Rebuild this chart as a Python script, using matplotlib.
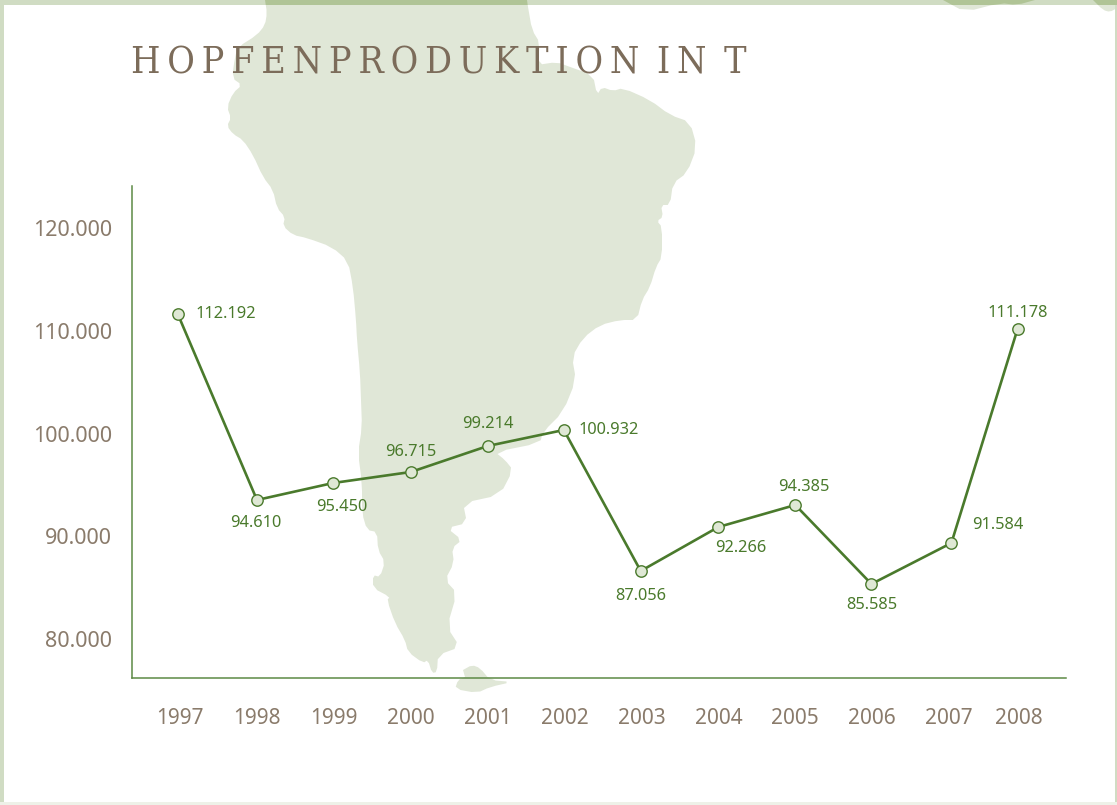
import matplotlib
matplotlib.use('Agg')
import matplotlib.pyplot as plt
from matplotlib.patches import Polygon, Rectangle

# data (the drawn points do not sit where their labels say)
years = ['1997','1998','1999','2000','2001','2002','2003','2004','2005','2006','2007','2008']
tick_pos = [1997,1998,1999,2000,2001,2002,2003,2004,2005,2006,2007,2007.9]
point_pos = [1996.97,1998,1998.99,2000,2001,2001.99,2002.99,2004,2005,2005.99,2007.03,2007.89]
values = [111630,93528,95182,96253,98783,100341,86618,90900,93041,85353,89343,110170]
value_labels = ['112.192','94.610','95.450','96.715','99.214','100.932','87.056','92.266','94.385','85.585','91.584','111.178']
y_ticks = [80000,90000,100000,110000,120000]
y_tick_labels = ['80.000','90.000','100.000','110.000','120.000']
title = 'H\u2009O\u2009P\u2009F\u2009E\u2009N\u2009P\u2009R\u2009O\u2009D\u2009U\u2009K\u2009T\u2009I\u2009O\u2009N \u2009I\u2009N \u2009T'

# label offsets from the point, in pixels
label_dx = [48,-1,9,0,0,45,0,22,9,0,46,0]
label_dy = [0,-23,-24,20,22,0,-25,-21,18,-21,18,16]

# background map, traced in image pixels
south_america = [(265,0),(267,13),(265,25),(257,35),(238,47),(235,57),(232,78),(242,85),(233,93),(227,107),
    (231,118),(227,126),(233,134),(243,140),(253,155),(263,177),(273,190),(277,208),(285,217),(283,226),
    (293,235),(307,238),(332,247),(348,261),(353,287),(356,320),(357,340),(360,373),(361,400),(362,427),
    (358,453),(362,483),(362,513),(367,530),(377,532),(378,550),(385,562),(380,577),(373,575),(373,588),
    (390,597),(387,600),(395,623),(405,640),(408,652),(423,663),(428,660),(432,673),(437,672),(438,655),
    (460,647),(447,627),(457,593),(445,580),(454,563),(452,548),(462,540),(447,528),(467,523),(463,503),
    (500,495),(513,470),(505,460),(495,452),(540,443),(543,432),(563,412),(576,380),(572,357),(583,338),
    (600,325),(620,320),(637,320),(642,300),(650,287),(656,267),(662,257),(662,227),(657,221),(663,217),
    (661,205),(670,205),(673,183),(687,173),(697,147),(690,122),(670,115),(650,100),(623,88),(613,91),
    (602,87),(597,95),(593,75),(570,67),(557,62),(537,65),(540,43),(532,30),(528,7),(527,0)]
island = [(463,670),(472,665),(480,668),(490,680),(512,682),(490,687),(477,693),(455,689),(458,680),(465,677)]
blob1 = [(943,0),(965,12),(1000,3),(1017,5),(1035,0)]
blob2 = [(1093,0),(1103,10),(1110,12),(1117,8),(1117,0)]

def smooth(pts):
    # one round of corner cutting so the coast is not so angular
    out = [pts[0]]
    for a,b in zip(pts[:-1],pts[1:]):
        out.append((0.75*a[0]+0.25*b[0], 0.75*a[1]+0.25*b[1]))
        out.append((0.25*a[0]+0.75*b[0], 0.25*a[1]+0.75*b[1]))
    out.append(pts[-1])
    return out

south_america = smooth(south_america)
island = smooth(island)
blob1 = smooth(blob1)
blob2 = smooth(blob2)

plt.rcParams['font.family'] = ['Noto Sans', 'DejaVu Sans']

fig = plt.figure(figsize=(11.17,8.05), dpi=100, facecolor='white')

#background layer in pixels
bg = fig.add_axes([0,0,1,1], zorder=0)
bg.set_xlim(0,1117)
bg.set_ylim(805,0)
bg.axis('off')
map_color = '#e0e7d7'
for shape in [south_america, island, blob1, blob2]:
    bg.add_patch(Polygon(shape, closed=True, fc=map_color, ec='none'))

#frame
frame_color = '#d0dcc3'
bg.add_patch(Rectangle((0,0),1117,5, fc=frame_color, ec='none'))
bg.add_patch(Rectangle((0,0),4,805, fc=frame_color, ec='none'))
bg.add_patch(Rectangle((1115,0),2,805, fc=frame_color, ec='none'))
bg.add_patch(Rectangle((0,802),1117,3, fc='#eef1e8', ec='none'))
for shape in [south_america, blob1, blob2]:
    clip = Polygon(shape, closed=True, transform=bg.transData)
    strip = Rectangle((0,0),1117,5, fc='#b0c496', ec='none')
    bg.add_patch(strip)
    strip.set_clip_path(clip)

bg.text(131,63,title, family=['DejaVu Serif','DejaVu Sans'], stretch='condensed',
        fontsize=27, color='#7c6c5a', va='center', ha='left')

#main chart
left, right, top, bottom = 132, 1066, 186, 678
ax = fig.add_axes([left/1117, 1-bottom/805, (right-left)/1117, (bottom-top)/805], zorder=1)
ax.patch.set_alpha(0)
ax.set_xlim(1996.375,2008.52)
ax.set_ylim(76204,124088)
for s in ['top','right']:
    ax.spines[s].set_visible(False)
for s in ['left','bottom']:
    ax.spines[s].set_color('#5d8a45')
    ax.spines[s].set_linewidth(1.1)

green = '#4a7a2c'
ax.plot(point_pos, values, color=green, lw=1.9, marker='o', ms=8.2,
        mfc='#dfe8d5', mec=green, mew=1.0, clip_on=False)

for x,y,t,dx,dy in zip(point_pos, values, value_labels, label_dx, label_dy):
    ax.annotate(t, (x,y), xytext=(dx*0.72,dy*0.72), textcoords='offset points',
                ha='center', va='center', fontsize=11.8, color=green)

ax.set_xticks(tick_pos, years)
ax.set_yticks(y_ticks, y_tick_labels)
ax.tick_params(axis='x', length=0, pad=21.5, labelsize=15, labelcolor='#8a7b6b')
ax.tick_params(axis='y', length=0, pad=14.5, labelsize=15.5, labelcolor='#8a7b6b')

fig.savefig('out.png', dpi=100)
